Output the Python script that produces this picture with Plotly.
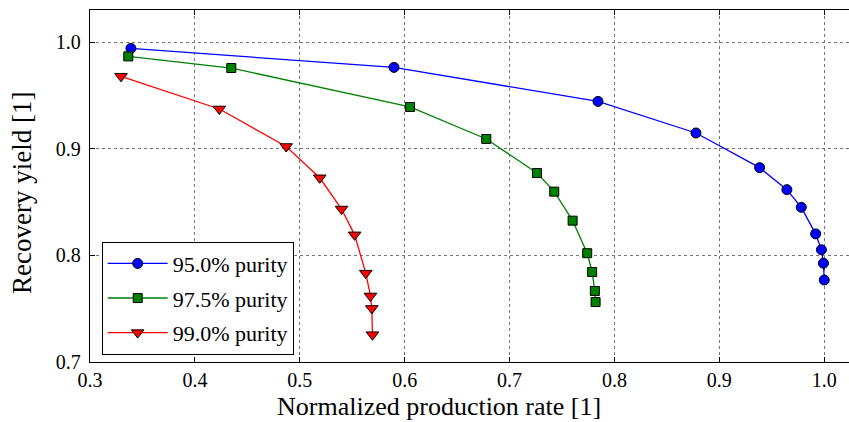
import plotly.graph_objects as go

# Data
blue_x = [0.339, 0.5898, 0.7843, 0.8777, 0.9384, 0.9644, 0.9781, 0.9918, 0.9973, 0.9992, 1.0]
blue_y = [0.994, 0.9762, 0.9443, 0.9147, 0.8822, 0.8616, 0.845, 0.8201, 0.8052, 0.7926, 0.7769]

green_x = [0.3365, 0.4347, 0.6051, 0.6778, 0.7261, 0.7426, 0.7601, 0.774, 0.7787, 0.7813, 0.782]
green_y = [0.9865, 0.9756, 0.9391, 0.9091, 0.8772, 0.8597, 0.8325, 0.802, 0.7844, 0.7666, 0.7562]

red_x = [0.3296, 0.4233, 0.487, 0.519, 0.5398, 0.5523, 0.5629, 0.5674, 0.5687, 0.5693]
red_y = [0.9678, 0.9372, 0.902, 0.8727, 0.8434, 0.8192, 0.7833, 0.7619, 0.7502, 0.7256]

labels = ["95.0% purity", "97.5% purity", "99.0% purity"]
x_ticks = [0.3, 0.4, 0.5, 0.6, 0.7, 0.8, 0.9, 1.0]
y_ticks = [0.7, 0.8, 0.9, 1.0]

FONT = "Liberation Serif"

series = [
    (blue_x, blue_y, labels[0], "#0000ff", "circle", 10),
    (green_x, green_y, labels[1], "#008000", "square", 9),
    (red_x, red_y, labels[2], "#ff0000", "triangle-down", 11),
]

fig = go.Figure()
for i, (xs, ys, name, col, sym, sz) in enumerate(series):
    fig.add_trace(go.Scatter(
        x=xs, y=ys, name=name, mode="lines+markers",
        legendgroup=f"g{i}",
        line=dict(color=col, width=1.3),
        marker=dict(symbol=sym, size=sz, color=col, line=dict(color="black", width=1)),
    ))

axis_common = dict(
    showline=True, linecolor="black", linewidth=1.3,
    ticks="inside", ticklen=5, tickcolor="black", tickwidth=1.2,
    showgrid=True, gridcolor="#777777", gridwidth=1, griddash="dot",
    zeroline=False,
    tickfont=dict(family=FONT, size=20, color="black"),
)

fig.update_xaxes(range=[0.3, 1.0236], tickvals=x_ticks, ticktext=[f"{v:.1f}" for v in x_ticks],
                 mirror="ticks", ticklabelstandoff=0, **axis_common)
fig.update_yaxes(range=[0.7, 1.03], tickvals=y_ticks, ticktext=[f"{v:.1f}" for v in y_ticks],
                 mirror=False, ticklabelstandoff=4, **axis_common)

fig.add_annotation(text="Normalized production rate [1]", xref="paper", yref="paper",
                   x=0.4598, y=-0.125, xanchor="center", yanchor="middle", showarrow=False,
                   font=dict(family=FONT, size=26, color="black"))
fig.add_annotation(text="Recovery yield [1]", xref="paper", yref="paper",
                   x=-0.0896, y=0.48, xanchor="center", yanchor="middle", showarrow=False,
                   textangle=-90, font=dict(family=FONT, size=27, color="black"))

fig.update_layout(
    width=849, height=422,
    margin=dict(l=90, r=0, t=10, b=60),
    paper_bgcolor="white", plot_bgcolor="white",
    font=dict(family=FONT),
    showlegend=True,
    legend=dict(x=0.0154, y=0.342, xanchor="left", yanchor="top",
                bgcolor="white", bordercolor="black", borderwidth=1,
                font=dict(family=FONT, size=22, color="black"),
                tracegroupgap=3, itemwidth=60),
)

fig.write_html("out.html")
